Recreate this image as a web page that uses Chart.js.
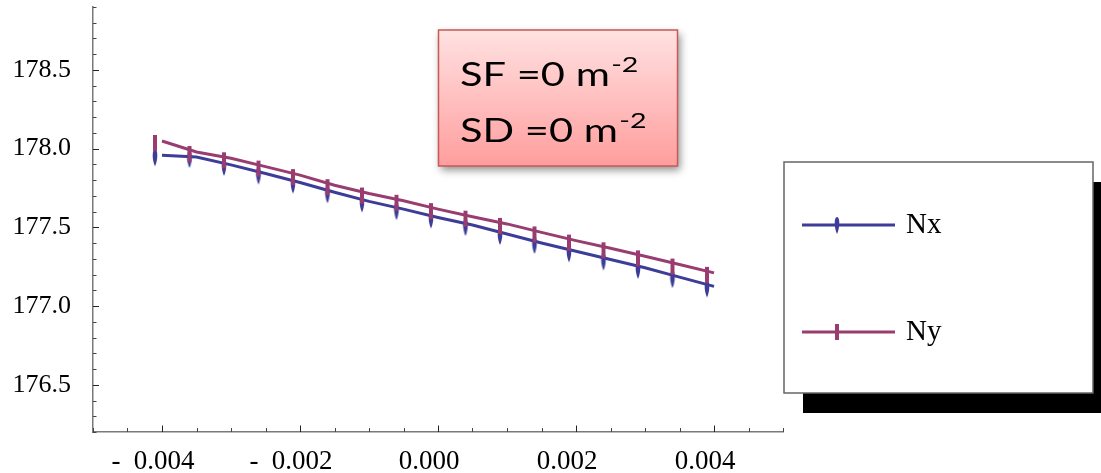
<!DOCTYPE html>
<html>
<head>
<meta charset="utf-8">
<title>Nx / Ny</title>
<script src="https://cdn.jsdelivr.net/npm/chart.js@4/dist/chart.umd.min.js"></script>
<style>
  html, body { margin: 0; padding: 0; background: #ffffff; }
  #wrap { width: 1101px; height: 473px; }
</style>
</head>
<body>
<div id="wrap"><canvas id="plot" width="1101" height="473"></canvas></div>
<script>
// Strain values along the horizontal axis
const xValues = [-0.004, -0.0035, -0.003, -0.0025, -0.002, -0.0015, -0.001, -0.0005,
                 0, 0.0005, 0.001, 0.0015, 0.002, 0.0025, 0.003, 0.0035, 0.004];

// Series values
const nxValues = [177.958, 177.947, 177.897, 177.842, 177.785, 177.723, 177.665, 177.616,
                  177.563, 177.515, 177.458, 177.401, 177.348, 177.296, 177.243, 177.184, 177.125];
const nyValues = [178.049, 177.979, 177.939, 177.886, 177.832, 177.768, 177.715, 177.669,
                  177.616, 177.568, 177.522, 177.468, 177.416, 177.367, 177.316, 177.264, 177.211];

// Axis ticks and labels
const xTickValues = [-0.004, -0.002, 0, 0.002, 0.004];
const xTickLabels = ['-  0.004', '-  0.002', '0.000', '0.002', '0.004'];
const yTickValues = [176.5, 177.0, 177.5, 178.0, 178.5];
const yTickLabels = ['176.5', '177.0', '177.5', '178.0', '178.5'];

const xRange = [-0.005, 0.005];
const yRange = [176.2, 178.9];
const xMinorStep = 0.0005, xMajorStep = 0.002;
const yMinorStep = 0.1, yMajorStep = 0.5;

const NX_COLOR = '#3d3d99';
const NY_COLOR = '#993d71';
const SERIF = '"Liberation Serif", "Times New Roman", serif';
Chart.defaults.font.family = SERIF;

// Marker glyphs (drawn slightly left of / below the vertex, as in the plot export)
function markerCanvas(shape, color, dx, dy) {
  const c = document.createElement('canvas');
  c.width = 40; c.height = 40;
  const g = c.getContext('2d');
  const cx = 20 + dx, cy = 20 + dy;
  g.fillStyle = color;
  if (shape === 'bar') {
    g.fillRect(cx - 2, cy - 8, 4, 16);
  } else {
    g.beginPath();
    g.moveTo(cx, cy - 8);
    g.bezierCurveTo(cx + 3.2, cy - 8, cx + 3, cy + 3, cx, cy + 9);
    g.bezierCurveTo(cx - 3, cy + 3, cx - 3.2, cy - 8, cx, cy - 8);
    g.fill();
  }
  return c;
}
const nxMarker = markerCanvas('drop', NX_COLOR, -7, 2);
const nyMarker = markerCanvas('bar', NY_COLOR, -7, 2);
const nxKeyMarker = markerCanvas('drop', NX_COLOR, 0, 0);
const nyKeyMarker = markerCanvas('bar', NY_COLOR, 0, 0);

// Inward-pointing major/minor ticks on both axes
const insideTicks = {
  id: 'insideTicks',
  afterDraw(chart) {
    const { ctx, chartArea: a, scales: { x, y } } = chart;
    ctx.save();
    ctx.lineWidth = 1;
    const nx = Math.round((x.max - x.min) / xMinorStep);
    for (let i = 0; i <= nx; i++) {
      const v = x.min + i * xMinorStep;
      const major = Math.abs(v / xMajorStep - Math.round(v / xMajorStep)) < 1e-6;
      const px = Math.round(x.getPixelForValue(v)) + 0.5;
      ctx.strokeStyle = major ? '#222' : '#444';
      ctx.beginPath();
      ctx.moveTo(px, a.bottom);
      ctx.lineTo(px, a.bottom - (major ? 6.5 : 4));
      ctx.stroke();
    }
    const ny = Math.round((y.max - y.min) / yMinorStep);
    for (let i = 0; i <= ny; i++) {
      const v = y.min + i * yMinorStep;
      const major = Math.abs(v / yMajorStep - Math.round(v / yMajorStep)) < 1e-6;
      const py = Math.round(y.getPixelForValue(v)) + 0.5;
      ctx.strokeStyle = major ? '#222' : '#444';
      ctx.beginPath();
      ctx.moveTo(a.left, py);
      ctx.lineTo(a.left + (major ? 6 : 3.5), py);
      ctx.stroke();
    }
    ctx.restore();
  }
};

// Boxed key with a hard drop shadow
const seriesKey = {
  id: 'seriesKey',
  afterDraw(chart) {
    const { ctx } = chart;
    const bx = 784, by = 162, bw = 309, bh = 231;
    ctx.save();
    ctx.fillStyle = '#000';
    ctx.fillRect(bx + 19, by + 20, bw, bh);
    ctx.fillStyle = '#fff';
    ctx.fillRect(bx, by, bw, bh);
    ctx.strokeStyle = '#666';
    ctx.lineWidth = 1.5;
    ctx.strokeRect(bx, by, bw, bh);
    const rows = [
      { ds: chart.data.datasets[0], mk: nxKeyMarker, y: 225 },
      { ds: chart.data.datasets[1], mk: nyKeyMarker, y: 332 }
    ];
    rows.forEach(r => {
      ctx.strokeStyle = r.ds.borderColor;
      ctx.lineWidth = 3;
      ctx.beginPath();
      ctx.moveTo(802, r.y);
      ctx.lineTo(895, r.y);
      ctx.stroke();
      ctx.drawImage(r.mk, 837 - 20, r.y - 20);
      ctx.fillStyle = '#000';
      ctx.font = '29px ' + SERIF;
      ctx.textAlign = 'left';
      ctx.textBaseline = 'middle';
      ctx.fillText(r.ds.label, 906, r.y);
    });
    ctx.restore();
  }
};

// Parameter note in a shaded box
const paramNote = {
  id: 'paramNote',
  afterDraw(chart) {
    const { ctx } = chart;
    const bx = 438.5, by = 30, bw = 239, bh = 136;
    ctx.save();
    const grad = ctx.createLinearGradient(0, by, 0, by + bh);
    grad.addColorStop(0, '#ffe2e2');
    grad.addColorStop(1, '#ff9e9e');
    ctx.shadowColor = 'rgba(0,0,0,0.45)';
    ctx.shadowBlur = 8;
    ctx.shadowOffsetX = 2;
    ctx.shadowOffsetY = 4;
    ctx.fillStyle = grad;
    ctx.fillRect(bx, by, bw, bh);
    ctx.shadowColor = 'transparent';
    ctx.strokeStyle = '#c55a57';
    ctx.lineWidth = 1.5;
    ctx.strokeRect(bx, by, bw, bh);

    const lines = [['SF =0 m', '-2', 86], ['SD =0 m', '-2', 141.5]];
    const sx = 1.3;
    ctx.fillStyle = '#000';
    ctx.textAlign = 'left';
    ctx.textBaseline = 'alphabetic';
    lines.forEach(([main, sup, base]) => {
      ctx.save();
      ctx.translate(460, base);
      ctx.scale(sx, 1);
      ctx.font = '32px Lato, "Open Sans", sans-serif';
      ctx.fillText(main, 0, 0);
      const w = ctx.measureText(main).width;
      ctx.font = '22px Lato, "Open Sans", sans-serif';
      ctx.fillText(sup, w + 1, -14);
      ctx.restore();
    });
    ctx.restore();
  }
};

const toPoints = ys => xValues.map((x, i) => ({ x, y: ys[i] }));

new Chart(document.getElementById('plot'), {
  type: 'line',
  data: {
    datasets: [
      {
        label: 'Nx', data: toPoints(nxValues), order: 1,
        borderColor: NX_COLOR, backgroundColor: NX_COLOR, borderWidth: 3,
        pointStyle: nxMarker, pointRadius: 3, tension: 0, fill: false
      },
      {
        label: 'Ny', data: toPoints(nyValues), order: 0,
        borderColor: NY_COLOR, backgroundColor: NY_COLOR, borderWidth: 3,
        pointStyle: nyMarker, pointRadius: 3, tension: 0, fill: false
      }
    ]
  },
  options: {
    responsive: false,
    animation: false,
    events: [],
    layout: { padding: { left: 0, top: 6, right: 318, bottom: 0 } },
    scales: {
      x: {
        type: 'linear', min: xRange[0], max: xRange[1],
        grid: { display: false, drawTicks: false },
        border: { display: true, color: '#7a7a7a', width: 1.5 },
        afterBuildTicks: s => { s.ticks = xTickValues.map(v => ({ value: v })); },
        afterFit: s => { s.height = 41; s.paddingLeft = 0; s.paddingRight = 0; },
        ticks: {
          padding: 14, labelOffset: -9, maxRotation: 0, autoSkip: false,
          color: '#000', font: { family: SERIF, size: 27 },
          callback: (v, i) => xTickLabels[i]
        }
      },
      y: {
        type: 'linear', min: yRange[0], max: yRange[1],
        grid: { display: false, drawTicks: false },
        border: { display: true, color: '#7a7a7a', width: 1.5 },
        afterBuildTicks: s => { s.ticks = yTickValues.map(v => ({ value: v })); },
        afterFit: s => { s.width = 93; s.paddingTop = 0; s.paddingBottom = 0; },
        ticks: {
          padding: 22, autoSkip: false,
          color: '#000', font: { family: SERIF, size: 26 },
          callback: (v, i) => yTickLabels[i]
        }
      }
    },
    plugins: { legend: { display: false }, tooltip: { enabled: false } }
  },
  plugins: [insideTicks, paramNote, seriesKey]
});
</script>
</body>
</html>
